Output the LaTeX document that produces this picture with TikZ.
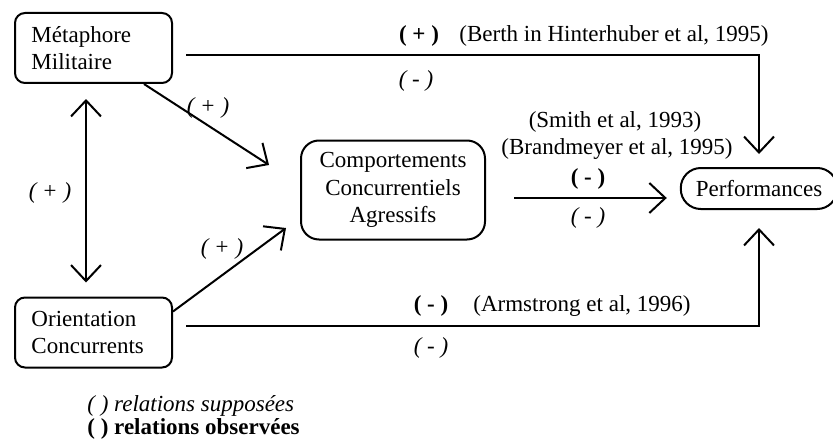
\documentclass[tikz,border=0pt]{standalone}
\usepackage{fontspec}
\setmainfont{Liberation Serif}
\usepackage{tikz}
\usetikzlibrary{arrows.meta}
\tikzstyle{bloc} = [rectangle, rounded corners=5pt, draw, line width=1pt, align=left, inner xsep=7.5pt]
\tikzstyle{fleche} = [line width=1pt, -{Straight Barb[length=8pt,width=15pt]}]
\tikzstyle{lien} = [line width=1pt, {Straight Barb[length=8pt,width=15pt]}-{Straight Barb[length=8pt,width=15pt]}]
\tikzstyle{supp} = [font=\itshape]
\tikzstyle{obs} = [font=\bfseries]

\begin{document}
\fontsize{11.5}{13.8}\selectfont
\begin{tikzpicture}[x=0.5pt, y=-0.5pt]
     \useasboundingbox (0,0) rectangle (833,444);
     % blocs
     \node (meta) at (93.5,48) [bloc, minimum width=78.5pt, minimum height=35pt, text width=62pt] {Métaphore\\Militaire};
     \node (orient) at (93.5,332.5) [bloc, minimum width=78.5pt, minimum height=35pt, text width=62pt] {Orientation\\Concurrents};
     \node (comp) at (393,190) [bloc, rounded corners=9pt, align=center, minimum width=92pt, minimum height=49.5pt] {Comportements\\Concurrentiels\\Agressifs};
     \node (perf) at (759,188.5) [bloc, rounded corners=10pt, minimum width=73pt, minimum height=20.5pt] {Performances};
     % liens
     \draw[lien] ([shift={(-3.75pt,-7.5pt)}]meta.south) -- ([shift={(-3.75pt,7pt)}]orient.north);
     \draw[fleche] ([xshift=-14.5pt]meta.south east) -- ([shift={(-15.5pt,-12.75pt)}]comp.north west);
     \draw[fleche] ([yshift=-7.5pt]orient.north east) -- ([shift={(-7pt,6.25pt)}]comp.south west);
     \draw[fleche, shorten >=6.5pt] ([shift={(6.5pt,-3.5pt)}]meta.east) -| (perf.north);
     \draw[fleche, shorten >=9pt] ([shift={(6.5pt,3.25pt)}]orient.east) -| (perf.south);
     \coordinate (m) at ([shift={(14pt,-4pt)}]comp.east);
     \draw[fleche, shorten >=6.5pt] (m) -- (m -| perf.west);
     % etiquettes
     \node[obs] (pm) at (419,36) {( + )};
     \node (berth) at (614,36) {(Berth in Hinterhuber et al, 1995)};
     \node[supp] (mm) at (416,81) {( - )};
     \node (smith) at (615,122) {(Smith et al, 1993)};
     \node (brand) at (617,149) {(Brandmeyer et al, 1995)};
     \node[obs] (cm) at (588,179) {( - )};
     \node[supp] (cs) at (588,218) {( - )};
     \node[obs] (om) at (431,306) {( - )};
     \node (arm) at (582,306) {(Armstrong et al, 1996)};
     \node[supp] (os) at (431,348) {( - )};
     \node[supp] (d1) at (208,108) {( + )};
     \node[supp] (v) at (50,193) {( + )};
     \node[supp] (d2) at (222,249) {( + )};
     % legende
     \node[supp, anchor=base west, inner sep=0pt] (lsupp) at (87,411) {( ) relations supposées};
     \node[obs, anchor=base west, inner sep=0pt] (lobs) at (87,434) {( ) relations observées};
\end{tikzpicture}
\end{document}
